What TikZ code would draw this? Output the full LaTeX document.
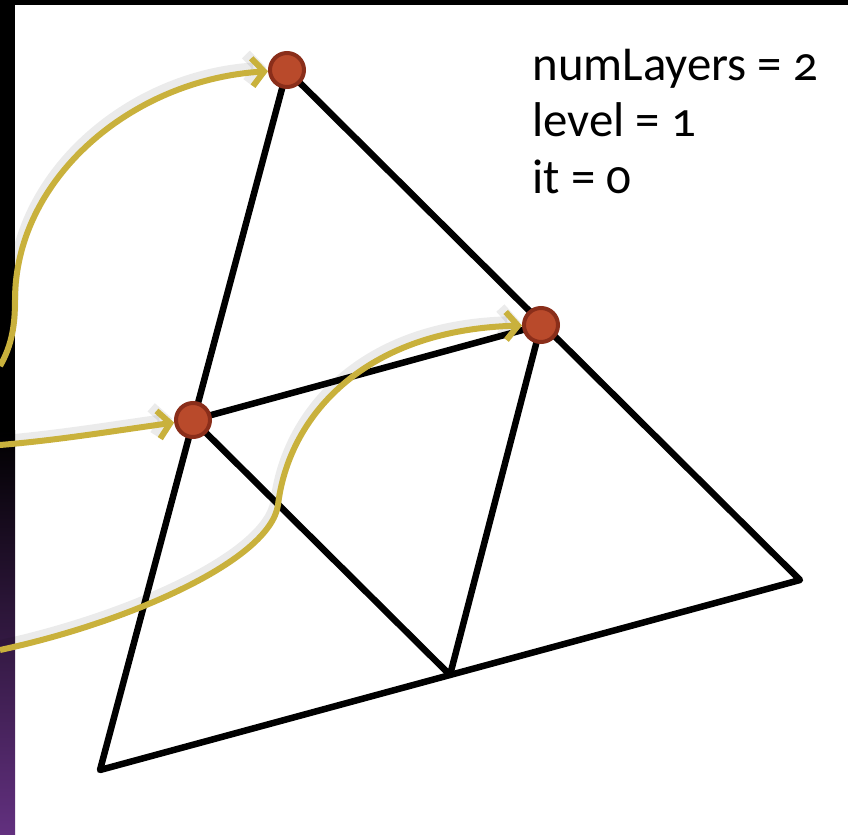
\documentclass[tikz,border=0pt]{standalone}
\usepackage{fontspec}
\setmainfont{Carlito}[Numbers=OldStyle]
\usetikzlibrary{positioning, arrows.meta}
\definecolor{dotred}{HTML}{B94A2B}
\definecolor{dotrim}{HTML}{8A2E1A}
\definecolor{linkgold}{HTML}{C9B13C}
\definecolor{sidepurple}{HTML}{62307F}

\begin{document}
\begin{tikzpicture}[x=1bp, y=-1bp,
    dot/.style={circle, fill=dotred, draw=dotrim, line width=4bp, minimum size=34bp, inner sep=0pt},
    edge/.style={line width=6.5bp, line join=round},
    link/.style={linkgold, line width=6bp, -{Straight Barb[length=12bp, width=28bp]},
      preaction={draw=black, opacity=0.08, line width=11bp, transform canvas={shift={(-2bp,4bp)}}}},
    label/.style={anchor=base west, font=\fontsize{49}{58}\selectfont}]
  \useasboundingbox (0,0) rectangle (848,835);
  % side bar
  \fill[black] (0,0) rectangle (848,5);
  \fill[black] (0,0) rectangle (15,430);
  \shade[top color=black, bottom color=sidepurple] (0,430) rectangle (15,835);

  % triangle and its midpoints
  \coordinate (cornerA) at (287,70);
  \coordinate (cornerB) at (800,580);
  \coordinate (cornerC) at (100,770);
  \coordinate (midAB) at (541,325);
  \coordinate (midBC) at (450,675);
  \coordinate (midCA) at (193,420);
  \draw[edge] (cornerA) -- (cornerB) -- (cornerC) -- cycle;
  \draw[edge] (midCA) -- (midAB) -- (midBC) -- cycle;

  \node[dot] (apex) at (cornerA) {};
  \node[dot] (right) at (midAB) {};
  \node[dot] (left) at (midCA) {};

  % links from the side
  \coordinate (from1) at (0,366);
  \coordinate (from2) at (0,445);
  \coordinate (from3) at (0,650);
  \draw[link] (from1) .. controls (12,345) and (15,325) .. (15,300)
    .. controls (15,180) and (130,80) .. (apex);
  \draw[link] (from2) .. controls (60,440) and (120,430) .. (left);
  \draw[link] (from3) .. controls (130,622) and (270,560) .. (278,505)
    .. controls (288,420) and (360,330) .. (right);

  \node[label] (layers) at (529,80) {numLayers = 2};
  \node[label] (level) at (529,136) {level = 1};
  \node[label] (iter) at (529,193) {it = 0};
\end{tikzpicture}
\end{document}
